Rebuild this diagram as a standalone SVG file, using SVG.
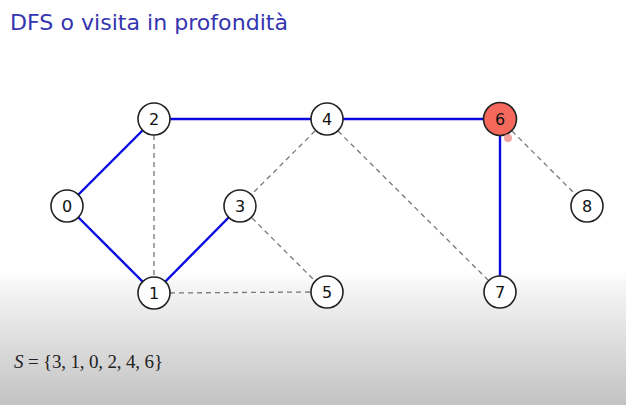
<svg xmlns="http://www.w3.org/2000/svg" width="626" height="405" viewBox="0 0 626 405">
<defs>
<linearGradient id="bg" x1="0" y1="0" x2="0" y2="1">
<stop offset="0" stop-color="#ffffff"/>
<stop offset="0.67" stop-color="#ffffff"/>
<stop offset="0.71" stop-color="#f5f5f5"/>
<stop offset="1" stop-color="#c2c2c2"/>
</linearGradient>
<style>
.title{font-family:"DejaVu Sans","Liberation Sans",sans-serif;font-size:22px;fill:#3535b0}
.tree{stroke:#0a0ae0;stroke-width:2.4;fill:none}
.back{stroke:#777777;stroke-width:1.3;stroke-dasharray:5 4;fill:none}
.node circle{fill:#ffffff;stroke:#222222;stroke-width:1.6}
.node text{font-family:"DejaVu Sans","Liberation Sans",sans-serif;font-size:16px;fill:#111111;text-anchor:middle}
.math{font-family:"Liberation Serif","DejaVu Serif",serif;font-size:19px;fill:#222222}
</style>
</defs>
<rect x="0" y="0" width="626" height="405" fill="url(#bg)"/>
<text class="title" x="10" y="30" textLength="278" lengthAdjust="spacingAndGlyphs">DFS o visita in profondità</text>
<g id="connectors">
<line class="tree" x1="67" y1="206" x2="154" y2="119"/>
<line class="tree" x1="67" y1="206" x2="154" y2="293"/>
<line class="tree" x1="154" y1="293" x2="240" y2="206"/>
<line class="tree" x1="154" y1="119" x2="327" y2="119"/>
<line class="tree" x1="327" y1="119" x2="500" y2="119"/>
<line class="tree" x1="500" y1="119" x2="500" y2="292"/>
<line class="back" x1="154" y1="135" x2="154" y2="277"/>
<line class="back" x1="170" y1="293" x2="311" y2="292"/>
<line class="back" x1="315" y1="131" x2="252" y2="194"/>
<line class="back" x1="252" y1="218" x2="315" y2="281"/>
<line class="back" x1="338" y1="131" x2="488" y2="280"/>
<line class="back" x1="512" y1="131" x2="575" y2="194"/>
</g>
<g id="node0" class="node"><circle cx="67" cy="206" r="16"/><text x="67" y="211.5">0</text></g>
<g id="node1" class="node"><circle cx="154" cy="293" r="16"/><text x="154" y="298.5">1</text></g>
<g id="node2" class="node"><circle cx="154" cy="119" r="16"/><text x="154" y="124.5">2</text></g>
<g id="node3" class="node"><circle cx="240" cy="206" r="16"/><text x="240" y="211.5">3</text></g>
<g id="node4" class="node"><circle cx="327" cy="119" r="16"/><text x="327" y="124.5">4</text></g>
<g id="node5" class="node"><circle cx="327" cy="292" r="16"/><text x="327" y="297.5">5</text></g>
<g id="node6" class="node"><circle cx="500" cy="119" r="16.5" style="fill:#f5695c"/><text x="500" y="124.5">6</text></g>
<g id="node7" class="node"><circle cx="500" cy="292" r="16"/><text x="500" y="297.5">7</text></g>
<g id="node8" class="node"><circle cx="587" cy="206" r="16"/><text x="587" y="211.5">8</text></g>
<circle cx="508" cy="138" r="4" fill="#f08a8a" opacity="0.8"/>
<text class="math" x="14" y="368" textLength="149" lengthAdjust="spacing"><tspan font-style="italic">S</tspan> = {3, 1, 0, 2, 4, 6}</text>
</svg>
